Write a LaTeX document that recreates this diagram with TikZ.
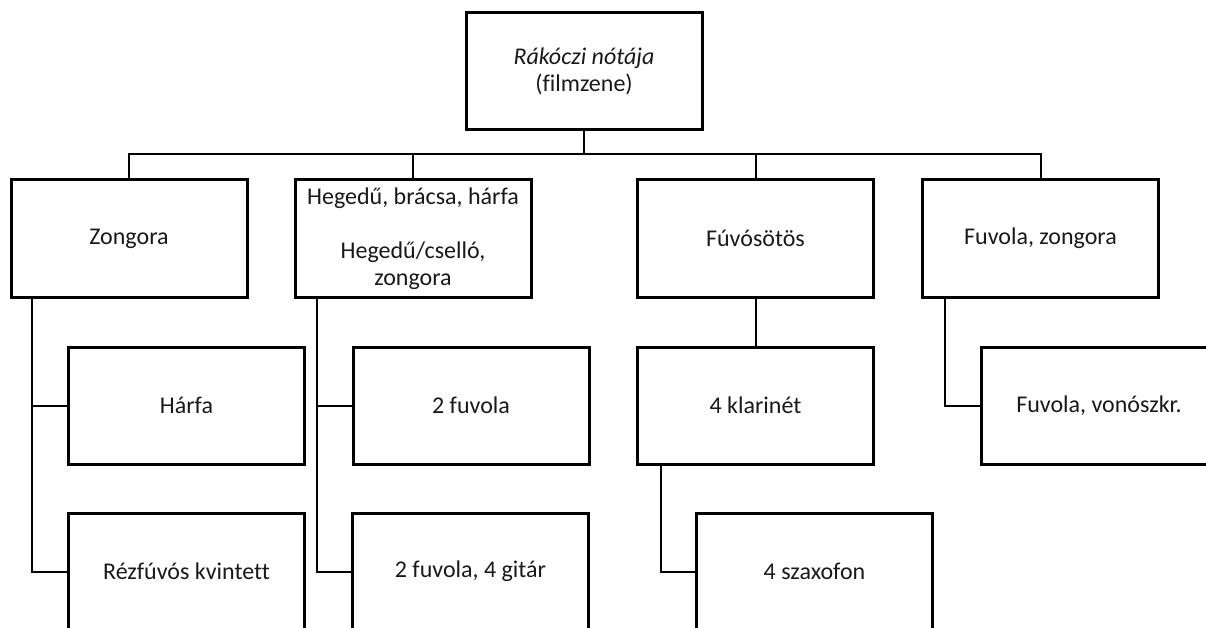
\documentclass[tikz,border=0pt]{standalone}
\usepackage{fontspec}
\setmainfont{Carlito}[Ligatures=NoCommon]
\usetikzlibrary{calc}
\begin{document}
\begin{tikzpicture}[x=1pt,y=-1pt,
  box/.style={draw=black, line width=3pt, minimum width=236pt, minimum height=117pt,
    inner sep=0pt, align=center, font=\fontsize{24}{27}\selectfont, text=black!90},
  conn/.style={draw=black, line width=2pt}]
\useasboundingbox (0,0) rectangle (1206,628);
\clip (0,0) rectangle (1206,628);
\node[box] (top) at (584,71.5) {\textit{Rákóczi nótája}\\(filmzene)};
\node[box] (zong) at (129,238.5) {Zongora};
\node[box] (heg) at (413,238.5) {Hegedű, brácsa, hárfa\\[27pt]Hegedű/cselló,\\zongora};
\node[box] (fuv) at (755.5,238.5) {Fúvósötös};
\node[box] (fz) at (1040.5,238.5) {Fuvola, zongora};
\node[box] (harfa) at (186.5,405.5) {Hárfa};
\node[box] (rez) at (186.5,571.5) {Rézfúvós kvintett};
\node[box] (f2) at (471,405.5) {2 fuvola};
\node[box] (f2g) at (470.5,571.5) {2 fuvola, 4 gitár};
\node[box] (kl) at (755.5,405.5) {4 klarinét};
\node[box] (sz) at (814.5,571.5) {4 szaxofon};
\node[box] (von) at (1099,405.5) {Fuvola, vonószkr.};
% bus
\coordinate (bus) at (584,154);
\draw[conn] (top.south) -- (top.south |- bus);
\draw[conn] (zong.north) |- (fz.north |- bus) -- (fz.north);
\draw[conn] (heg.north) -- (heg.north |- bus);
\draw[conn] (fuv.north) -- (fuv.north |- bus);
% subtrees
\coordinate (zl) at ($(zong.south west)+(22,0)$);
\draw[conn] (zl) |- (rez.west);
\draw[conn] (zl |- harfa.west) -- (harfa.west);
\coordinate (hl) at ($(heg.south west)+(23,0)$);
\draw[conn] (hl) |- (f2g.west);
\draw[conn] (hl |- f2.west) -- (f2.west);
\draw[conn] (fuv.south) -- (kl.north);
\coordinate (kll) at ($(kl.south west)+(25,0)$);
\draw[conn] (kll) |- (sz.west);
\coordinate (fzl) at ($(fz.south west)+(24,0)$);
\draw[conn] (fzl) |- (von.west);
\end{tikzpicture}
\end{document}
